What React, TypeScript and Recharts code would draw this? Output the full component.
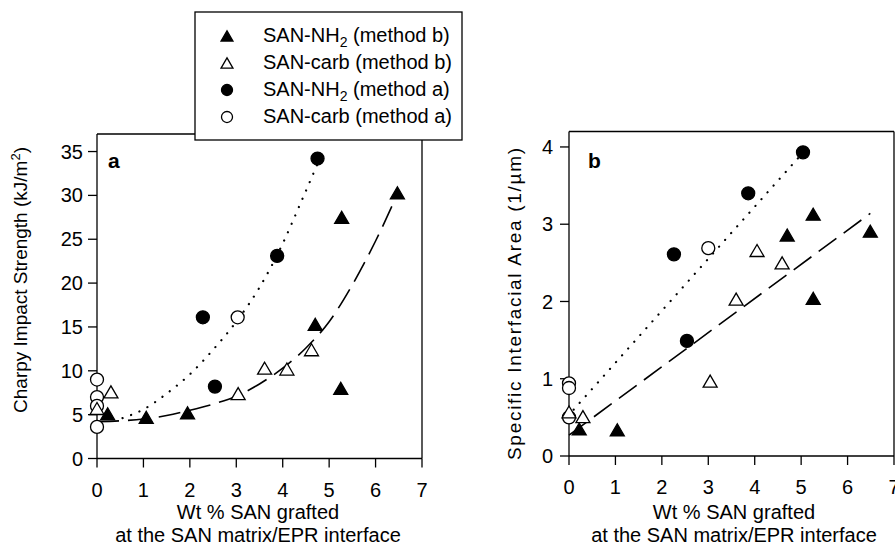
import {
  ReferenceLine,
  Scatter,
  ScatterChart,
  XAxis,
  YAxis,
} from 'recharts'

type Pt = { x: number; y: number }

// panel a: Charpy impact strength (kJ/m2)
const aNh2B: Pt[] = [
  { x: 0.23, y: 5.1 },
  { x: 1.06, y: 4.7 },
  { x: 1.95, y: 5.2 },
  { x: 4.7, y: 15.3 },
  { x: 5.25, y: 8.0 },
  { x: 5.27, y: 27.5 },
  { x: 6.47, y: 30.3 },
]
const aCarbB: Pt[] = [
  { x: 0, y: 5.7 },
  { x: 0.3, y: 7.6 },
  { x: 3.04, y: 7.4 },
  { x: 3.61, y: 10.3 },
  { x: 4.09, y: 10.2 },
  { x: 4.62, y: 12.4 },
]
const aNh2A: Pt[] = [
  { x: 2.28, y: 16.1 },
  { x: 2.54, y: 8.2 },
  { x: 3.88, y: 23.1 },
  { x: 4.75, y: 34.2 },
]
const aCarbA: Pt[] = [
  { x: 0, y: 9.0 },
  { x: 0, y: 7.0 },
  { x: 0, y: 6.0 },
  { x: 0, y: 3.6 },
  { x: 3.03, y: 16.1 },
]
const aFitB: Pt[] = [
  { x: 0, y: 4.2 },
  { x: 0.5, y: 4.3 },
  { x: 1, y: 4.5 },
  { x: 1.5, y: 4.9 },
  { x: 2, y: 5.5 },
  { x: 2.5, y: 6.2 },
  { x: 3, y: 7.1 },
  { x: 3.5, y: 8.5 },
  { x: 4, y: 10.3 },
  { x: 4.5, y: 12.6 },
  { x: 5, y: 15.6 },
  { x: 5.5, y: 19.8 },
  { x: 6, y: 24.8 },
  { x: 6.5, y: 30.5 },
]
const aFitA: Pt[] = [
  { x: 0.55, y: 4.6 },
  { x: 1, y: 5.6 },
  { x: 1.5, y: 7.4 },
  { x: 2, y: 9.6 },
  { x: 2.5, y: 12.4 },
  { x: 3, y: 15.6 },
  { x: 3.5, y: 19.5 },
  { x: 4, y: 24.5 },
  { x: 4.4, y: 29.3 },
  { x: 4.75, y: 33.6 },
]

// panel b: specific interfacial area (1/um)
const bNh2B: Pt[] = [
  { x: 0.22, y: 0.35 },
  { x: 1.04, y: 0.34 },
  { x: 4.7, y: 2.86 },
  { x: 5.26, y: 3.13 },
  { x: 5.26, y: 2.04 },
  { x: 6.49, y: 2.91 },
]
const bCarbB: Pt[] = [
  { x: 0, y: 0.57 },
  { x: 0.3, y: 0.51 },
  { x: 3.04, y: 0.97 },
  { x: 3.6, y: 2.03 },
  { x: 4.05, y: 2.66 },
  { x: 4.59, y: 2.5 },
]
const bNh2A: Pt[] = [
  { x: 2.26, y: 2.61 },
  { x: 2.54, y: 1.49 },
  { x: 3.86, y: 3.4 },
  { x: 5.04, y: 3.93 },
]
const bCarbA: Pt[] = [
  { x: 0, y: 0.94 },
  { x: 0, y: 0.88 },
  { x: 0, y: 0.5 },
  { x: 3.0, y: 2.69 },
]
const bFitB: Pt[] = [
  { x: 0, y: 0.27 },
  { x: 6.49, y: 3.14 },
]
const bFitA: Pt[] = [
  { x: 0.1, y: 0.6 },
  { x: 5.0, y: 3.9 },
]

const xTicks = [0, 1, 2, 3, 4, 5, 6, 7]
const aYTicks = [0, 5, 10, 15, 20, 25, 30, 35]
const bYTicks = [0, 1, 2, 3, 4]

const FONT = '"Liberation Sans", Arial, sans-serif'
const INK = '#000'
const SW = 1.3

type Kind = 'triFill' | 'triOpen' | 'dotFill' | 'dotOpen'

function Mark({ cx, cy, kind, s = 1 }: { cx: number; cy: number; kind: Kind; s?: number }) {
  if (kind === 'triFill' || kind === 'triOpen') {
    const w = 7 * s
    const h = 6 * s
    const open = kind === 'triOpen'
    return (
      <polygon
        points={`${cx},${cy - h} ${cx - w},${cy + h} ${cx + w},${cy + h}`}
        fill={open ? '#fff' : INK}
        stroke={INK}
        strokeWidth={SW}
        strokeLinejoin="miter"
      />
    )
  }
  return (
    <circle
      cx={cx}
      cy={cy}
      r={6.5 * s}
      fill={kind === 'dotOpen' ? '#fff' : INK}
      stroke={INK}
      strokeWidth={SW}
    />
  )
}

const shapeOf = (kind: Kind) => (p: any) => <Mark cx={p.cx} cy={p.cy} kind={kind} />
const noShape = () => <g />

const axisStroke = { stroke: INK, strokeWidth: SW }
const tickText = { fill: INK, fontSize: 20 }

function Panel({
  width,
  height,
  plotLeft,
  plotTop,
  plotBottom,
  rightPad,
  yMax,
  yTicks,
  yTickMargin,
  nh2B,
  carbB,
  nh2A,
  carbA,
  fitB,
  fitA,
  fitBJoint,
}: {
  width: number
  height: number
  plotLeft: number
  plotTop: number
  plotBottom: number
  rightPad: number
  yMax: number
  yTicks: number[]
  yTickMargin: number
  nh2B: Pt[]
  carbB: Pt[]
  nh2A: Pt[]
  carbA: Pt[]
  fitB: Pt[]
  fitA: Pt[]
  fitBJoint: 'monotoneX' | 'linear'
}) {
  return (
    <ScatterChart
      width={width}
      height={height}
      margin={{ top: plotTop, right: rightPad, left: 0, bottom: 0 }}
    >
      <XAxis
        type="number"
        dataKey="x"
        domain={[0, 7]}
        ticks={xTicks}
        interval={0}
        height={height - plotBottom}
        tickSize={9}
        tickMargin={15}
        tick={tickText}
        axisLine={axisStroke}
        tickLine={axisStroke}
      />
      <YAxis
        type="number"
        dataKey="y"
        domain={[0, yMax]}
        ticks={yTicks}
        interval={0}
        width={plotLeft}
        tickSize={9}
        tickMargin={yTickMargin}
        tick={tickText}
        axisLine={axisStroke}
        tickLine={axisStroke}
      />
      <ReferenceLine y={yMax} stroke={INK} strokeWidth={SW} />
      <ReferenceLine x={7} stroke={INK} strokeWidth={SW} />
      <Scatter
        data={fitB}
        line={{ stroke: INK, strokeWidth: 1.6, strokeDasharray: '22 9' }}
        lineJointType={fitBJoint}
        shape={noShape}
        isAnimationActive={false}
      />
      <Scatter
        data={fitA}
        line={{ stroke: INK, strokeWidth: 2.2, strokeDasharray: '0.1 9', strokeLinecap: 'round' }}
        lineJointType="monotoneX"
        shape={noShape}
        isAnimationActive={false}
      />
      <Scatter data={carbA} shape={shapeOf('dotOpen')} isAnimationActive={false} />
      <Scatter data={nh2A} shape={shapeOf('dotFill')} isAnimationActive={false} />
      <Scatter data={carbB} shape={shapeOf('triOpen')} isAnimationActive={false} />
      <Scatter data={nh2B} shape={shapeOf('triFill')} isAnimationActive={false} />
    </ScatterChart>
  )
}

const legendItems: { kind: Kind; name: string; method: string }[] = [
  { kind: 'triFill', name: 'NH', method: 'b' },
  { kind: 'triOpen', name: 'carb', method: 'b' },
  { kind: 'dotFill', name: 'NH', method: 'a' },
  { kind: 'dotOpen', name: 'carb', method: 'a' },
]
const legendRows = [36, 63, 90, 117]

function Overlay() {
  return (
    <svg
      width={895}
      height={549}
      style={{ position: 'absolute', left: 0, top: 0, pointerEvents: 'none' }}
    >
      <text x={108} y={168} fontSize={21} fontWeight="bold">a</text>
      <text x={588} y={168} fontSize={21} fontWeight="bold">b</text>

      <text
        x={27}
        y={280}
        fontSize={19}
        textAnchor="middle"
        transform="rotate(-90, 27, 280)"
      >
        Charpy Impact Strength (kJ/m
        <tspan dy={-7} fontSize={13}>2</tspan>
        <tspan dy={7}>)</tspan>
      </text>
      <text
        x={521}
        y={304}
        fontSize={19}
        textAnchor="middle"
        textLength={312}
        lengthAdjust="spacing"
        transform="rotate(-90, 521, 304)"
      >
        Specific Interfacial Area (1/µm)
      </text>

      {[258, 734].map((cx) => (
        <g key={cx}>
          <text x={cx} y={519} fontSize={20} textAnchor="middle">
            Wt % SAN grafted
          </text>
          <text x={cx} y={542} fontSize={20} textAnchor="middle">
            at the SAN matrix/EPR interface
          </text>
        </g>
      ))}

      <rect x={195} y={12} width={267} height={128} fill="#fff" stroke={INK} strokeWidth={SW} />
      {legendItems.map((it, i) => {
        const y = legendRows[i]
        return (
          <g key={i}>
            <Mark cx={227} cy={y} kind={it.kind} s={0.85} />
            <text x={263} y={y + 6} fontSize={20}>
              SAN-{it.name}
              {it.name === 'NH' ? (
                <>
                  <tspan dy={5} fontSize={14}>2</tspan>
                  <tspan dy={-5}> (method {it.method})</tspan>
                </>
              ) : (
                <tspan> (method {it.method})</tspan>
              )}
            </text>
          </g>
        )
      })}
    </svg>
  )
}

export default function App() {
  return (
    <div
      style={{
        position: 'absolute',
        left: 0,
        top: 0,
        width: 895,
        height: 549,
        background: '#fff',
        fontFamily: FONT,
        color: INK,
        overflow: 'hidden',
      }}
    >
      <div style={{ position: 'absolute', left: 0, top: 0 }}>
        <Panel
          width={440}
          height={549}
          plotLeft={97}
          plotTop={134}
          plotBottom={458.5}
          rightPad={18}
          yMax={37}
          yTicks={aYTicks}
          yTickMargin={5}
          nh2B={aNh2B}
          carbB={aCarbB}
          nh2A={aNh2A}
          carbA={aCarbA}
          fitB={aFitB}
          fitA={aFitA}
          fitBJoint="monotoneX"
        />
      </div>
      <div style={{ position: 'absolute', left: 460, top: 0 }}>
        <Panel
          width={436}
          height={549}
          plotLeft={109}
          plotTop={131.5}
          plotBottom={456}
          rightPad={2}
          yMax={4.2}
          yTicks={bYTicks}
          yTickMargin={7}
          nh2B={bNh2B}
          carbB={bCarbB}
          nh2A={bNh2A}
          carbA={bCarbA}
          fitB={bFitB}
          fitA={bFitA}
          fitBJoint="linear"
        />
      </div>
      <Overlay />
    </div>
  )
}
